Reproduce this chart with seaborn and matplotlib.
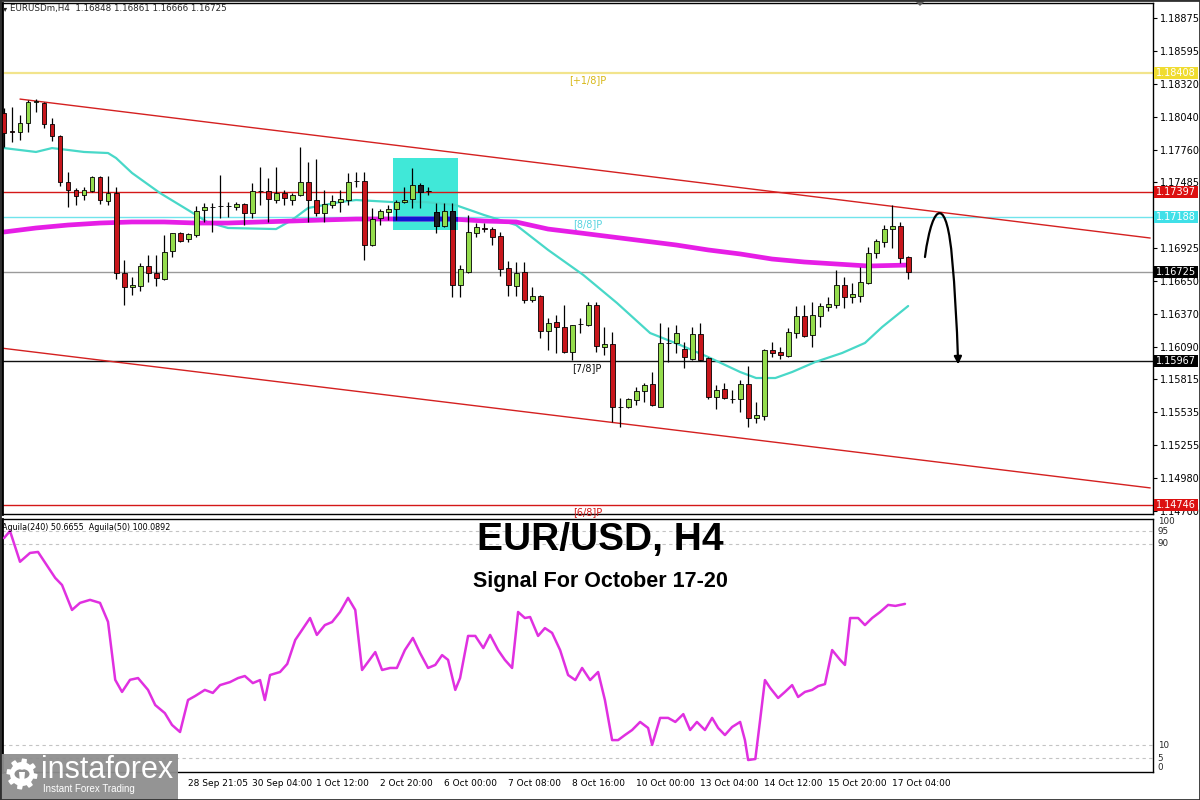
import numpy as np
import pandas as pd
import matplotlib
matplotlib.use("Agg")
import matplotlib.pyplot as plt
import seaborn as sns
from matplotlib.patches import Rectangle, FancyArrowPatch, Polygon, Circle
from matplotlib.path import Path
from matplotlib.transforms import blended_transform_factory

# ---------------- data ----------------
opens = [1.18070, 1.17917, 1.17909, 1.17985, 1.18163, 1.18155, 1.17977, 1.17875, 1.17486, 1.17418,
         1.17375, 1.17409, 1.17528, 1.17325, 1.17392, 1.16715, 1.16596, 1.16605, 1.16774, 1.16715,
         1.16664, 1.16901, 1.17054, 1.17003, 1.17037, 1.17248, 1.17274, 1.17282, 1.17282, 1.17274,
         1.17299, 1.17223, 1.17409, 1.17409, 1.17333, 1.17392, 1.17333, 1.17375, 1.17486, 1.17333,
         1.17223, 1.17291, 1.17316, 1.17333, 1.17494, 1.17494, 1.16952, 1.17181, 1.17231, 1.17257,
         1.17316, 1.17341, 1.17460, 1.17409, 1.17231, 1.17113, 1.17240, 1.16613, 1.16723, 1.17054,
         1.17096, 1.17087, 1.17028, 1.16757, 1.16605, 1.16723, 1.16486, 1.16520, 1.16223, 1.16300,
         1.16257, 1.16046, 1.16283, 1.16274, 1.16444, 1.16088, 1.16113, 1.15580, 1.15580, 1.15639,
         1.15715, 1.15775, 1.15580, 1.16122, 1.16122, 1.16071, 1.15986, 1.16198, 1.15995, 1.15664,
         1.15732, 1.15647, 1.15647, 1.15775, 1.15486, 1.15503, 1.16063, 1.16046, 1.16012, 1.16206,
         1.16351, 1.16189, 1.16351, 1.16427, 1.16444, 1.16613, 1.16511, 1.16520, 1.16630, 1.16884,
         1.16977, 1.17087, 1.17113, 1.16848]
highs = [1.18112, 1.18121, 1.18053, 1.18180, 1.18188, 1.18163, 1.18028, 1.17883, 1.17570, 1.17435,
         1.17443, 1.17536, 1.17536, 1.17536, 1.17443, 1.16825, 1.16681, 1.16799, 1.16867, 1.16867,
         1.17037, 1.17054, 1.17062, 1.17054, 1.17282, 1.17308, 1.17308, 1.17545, 1.17316, 1.17316,
         1.17308, 1.17477, 1.17613, 1.17519, 1.17613, 1.17418, 1.17392, 1.17782, 1.17655, 1.17680,
         1.17418, 1.17375, 1.17418, 1.17562, 1.17570, 1.17570, 1.17265, 1.17257, 1.17291, 1.17333,
         1.17443, 1.17604, 1.17477, 1.17443, 1.17308, 1.17308, 1.17308, 1.16783, 1.17206, 1.17138,
         1.17138, 1.17104, 1.17062, 1.16816, 1.16808, 1.16808, 1.16596, 1.16528, 1.16334, 1.16359,
         1.16444, 1.16274, 1.16334, 1.16469, 1.16469, 1.16257, 1.16215, 1.15656, 1.15656, 1.15749,
         1.15783, 1.15876, 1.16291, 1.16257, 1.16274, 1.16130, 1.16257, 1.16291, 1.16003, 1.15766,
         1.15783, 1.15724, 1.15808, 1.15927, 1.15622, 1.16071, 1.16130, 1.16088, 1.16249, 1.16435,
         1.16444, 1.16469, 1.16461, 1.16512, 1.16740, 1.16681, 1.16630, 1.16766, 1.16935, 1.17003,
         1.17121, 1.17291, 1.17147, 1.16861]
lows = [1.17782, 1.17824, 1.17841, 1.17909, 1.18078, 1.17943, 1.17833, 1.17452, 1.17274, 1.17291,
        1.17333, 1.17401, 1.17299, 1.17291, 1.16664, 1.16444, 1.16528, 1.16562, 1.16639, 1.16605,
        1.16655, 1.16850, 1.16977, 1.16977, 1.17020, 1.17147, 1.17062, 1.17181, 1.17189, 1.17248,
        1.17121, 1.17181, 1.17291, 1.17147, 1.17308, 1.17291, 1.17291, 1.17367, 1.17147, 1.17197,
        1.17147, 1.17265, 1.17231, 1.17291, 1.17443, 1.16825, 1.16943, 1.17121, 1.17164, 1.17164,
        1.17308, 1.17265, 1.17265, 1.17375, 1.17054, 1.17104, 1.16511, 1.16511, 1.16715, 1.17020,
        1.17062, 1.16952, 1.16689, 1.16520, 1.16520, 1.16461, 1.16469, 1.16164, 1.16063, 1.16037,
        1.16037, 1.15978, 1.16206, 1.16266, 1.16046, 1.16020, 1.15453, 1.15410, 1.15571, 1.15597,
        1.15622, 1.15588, 1.15580, 1.15961, 1.16037, 1.15910, 1.15978, 1.15969, 1.15647, 1.15563,
        1.15647, 1.15614, 1.15537, 1.15410, 1.15444, 1.15470, 1.16003, 1.15986, 1.16003, 1.16164,
        1.16172, 1.16088, 1.16257, 1.16393, 1.16418, 1.16418, 1.16461, 1.16469, 1.16622, 1.16842,
        1.16935, 1.16927, 1.16799, 1.16666]
closes = [1.17901, 1.17909, 1.17985, 1.18163, 1.18172, 1.17977, 1.17875, 1.17486, 1.17418, 1.17367,
          1.17418, 1.17528, 1.17333, 1.17392, 1.16715, 1.16596, 1.16613, 1.16774, 1.16715, 1.16672,
          1.16893, 1.17054, 1.16986, 1.17045, 1.17240, 1.17274, 1.17270, 1.17280, 1.17285, 1.17299,
          1.17223, 1.17409, 1.17412, 1.17341, 1.17392, 1.17350, 1.17375, 1.17486, 1.17333, 1.17223,
          1.17299, 1.17325, 1.17341, 1.17486, 1.17497, 1.16952, 1.17172, 1.17240, 1.17257, 1.17316,
          1.17333, 1.17460, 1.17401, 1.17406, 1.17113, 1.17240, 1.16613, 1.16749, 1.17062, 1.17104,
          1.17087, 1.17020, 1.16749, 1.16613, 1.16715, 1.16486, 1.16520, 1.16223, 1.16291, 1.16257,
          1.16046, 1.16274, 1.16280, 1.16444, 1.16096, 1.16113, 1.15580, 1.15583, 1.15647, 1.15715,
          1.15766, 1.15597, 1.16122, 1.16125, 1.16206, 1.16003, 1.16198, 1.15978, 1.15664, 1.15724,
          1.15656, 1.15644, 1.15775, 1.15486, 1.15512, 1.16063, 1.16037, 1.16020, 1.16215, 1.16351,
          1.16181, 1.16359, 1.16435, 1.16452, 1.16613, 1.16511, 1.16537, 1.16639, 1.16884, 1.16986,
          1.17087, 1.17113, 1.16842, 1.16725]

# slow moving average (magenta) sampled along the chart
ma_slow_idx = [0, 4, 8, 12, 16, 20, 24, 28, 32, 36, 40, 44, 48, 52, 56, 60, 64, 68, 72, 76,
               80, 84, 88, 92, 96, 100, 104, 108, 113]
ma_slow_val = [1.17062, 1.17096, 1.17121, 1.17138, 1.17147, 1.17147, 1.17138, 1.17138, 1.17147, 1.17155,
               1.17164, 1.17172, 1.17172, 1.17172, 1.17172, 1.17155, 1.17147, 1.17087, 1.17054, 1.17020,
               1.16986, 1.16952, 1.16910, 1.16876, 1.16833, 1.16808, 1.16791, 1.16774, 1.16782]
# fast moving average (turquoise)
ma_fast_idx = [0, 4, 6, 8, 10, 13, 14, 16, 19.5, 23, 25.4, 28, 34, 36, 38, 42, 44, 48.5, 52.6, 56.4,
               60, 64, 68, 72.4, 76.6, 80.75, 84.5, 88, 92, 94, 96.4, 98.5, 101.4, 104.75, 107.6,
               109.75, 113]
ma_fast_val = [1.17773, 1.17740, 1.17773, 1.17757, 1.17740, 1.17731, 1.17689, 1.17562, 1.17392, 1.17248,
               1.17147, 1.17096, 1.17087, 1.17164, 1.17265, 1.17316, 1.17333, 1.17316, 1.17316, 1.17291,
               1.17206, 1.17121, 1.16910, 1.16698, 1.16461, 1.16206, 1.16105, 1.16003, 1.15876, 1.15825,
               1.15825, 1.15876, 1.15961, 1.16037, 1.16122, 1.16257, 1.16435]

# Aguila oscillator (lower panel)
agu_idx = [0, 0.75, 2, 3.25, 4.25, 5.5, 6.4, 7.25, 8.5, 9.5,
           10.75, 12, 13, 13.9, 14.75, 15.75, 16.75, 18, 18.9, 20.1,
           21, 22, 23, 23.9, 25.1, 26.1, 27, 28.25, 29.25, 30.1,
           31.1, 32, 32.6, 33.25, 34.5, 35.4, 36.4, 37.4, 38.25, 39.1,
           40.1, 41, 42, 43, 43.9, 44.75, 45.5, 46.4, 47.25, 48.25,
           49.1, 50.1, 51.1, 52, 53, 53.9, 54.75, 55.5, 56.4, 57,
           58, 58.9, 59.9, 60.75, 61.75, 62.6, 63.5, 64.25, 65.1, 65.75,
           66.75, 67.6, 68.5, 69.5, 70.5, 71.4, 72.25, 73.25, 74.25, 75.1,
           76, 76.75, 77.6, 78.5, 79.5, 80.5, 81, 82, 83, 83.9,
           84.9, 85.75, 86.6, 87.6, 88.5, 89.25, 90.1, 91, 92, 92.6,
           93, 93.9, 94.5, 95.1, 95.75, 96.75, 97.6, 98.5, 99.25, 100.1,
           101, 101.75, 102.6, 103.5, 104.5, 105.1, 105.75, 106.75, 107.6, 108.5,
           109.5, 110.5, 111.4, 112.6]
agu_val = [92.2, 95.0, 82.8, 86.3, 86.7, 80.7, 76.4, 73.6, 63.7, 66.5,
           67.7, 66.5, 59.0, 36.0, 31.2, 36.0, 36.7, 32.0, 26.0, 22.8,
           18.1, 15.3, 28.0, 29.6, 32.0, 30.8, 33.9, 35.1, 36.7, 37.5,
           34.7, 35.9, 28.0, 37.9, 39.1, 42.3, 51.8, 56.5, 60.5, 53.8,
           57.7, 58.9, 62.9, 68.5, 63.7, 39.9, 43.1, 47.0, 39.9, 40.7,
           40.7, 47.8, 52.6, 46.6, 40.7, 41.9, 45.8, 43.9, 32.0, 36.7,
           53.4, 53.4, 48.6, 53.8, 47.8, 43.9, 40.7, 62.9, 60.5, 60.9,
           53.4, 56.5, 54.6, 47.8, 37.9, 35.9, 40.7, 35.9, 39.1, 28.0,
           12.1, 12.1, 14.1, 16.1, 19.3, 16.9, 10.2, 20.9, 20.9, 19.3,
           22.4, 16.1, 19.3, 16.1, 20.9, 16.9, 14.1, 17.3, 19.3, 12.1,
           4.2, 4.6, 20.1, 35.9, 32.8, 28.8, 31.2, 33.9, 29.2, 31.2,
           32.0, 33.5, 34.3, 47.8, 43.9, 41.9, 60.5, 60.5, 57.7, 60.5,
           62.9, 65.7, 65.3, 66.1]

# trend channel (index, price)
upper_tl_idx = [2, 143.25]
upper_tl_val = [1.18188, 1.17011]
lower_tl_idx = [-0.5, 143.25]
lower_tl_val = [1.16080, 1.14894]

# horizontal levels
lvl_plus18 = 1.18408
lvl_red = 1.17397
lvl_88 = 1.17188
lvl_last = 1.16725
lvl_78 = 1.15967
lvl_68 = 1.14746

# highlighted box (index range, price range)
box_idx = [48.6, 56.75]
box_val = [1.17079, 1.17689]

price_ticks = [1.18875, 1.18595, 1.18320, 1.18040, 1.17760, 1.17485, 1.16925,
               1.16650, 1.16370, 1.16090, 1.15815, 1.15535, 1.15255, 1.14980, 1.14700]
time_tick_idx = [23, 31, 39, 47, 55, 63, 71, 79, 87, 95, 103, 111]
time_tick_lbl = ["28 Sep 21:05", "30 Sep 04:00", "1 Oct 12:00", "2 Oct 20:00", "6 Oct 00:00",
                 "7 Oct 08:00", "8 Oct 16:00", "10 Oct 00:00", "13 Oct 04:00", "14 Oct 12:00",
                 "15 Oct 20:00", "17 Oct 04:00"]
osc_ticks = [100, 95, 90, 10, 5, 0]
osc_grid = [95, 90, 10, 5]

# ---------------- style ----------------
sns.set_style("white")
plt.rcParams['font.family'] = ['DejaVu Sans']

GREEN = '#94dc4c'
RED = '#c8161c'
DARK = '#1c1c24'
MAGENTA = '#e61ee6'
TURQ = '#48d8c8'
BOXC = '#40e8d8'

W, H = 1200, 800
fig = plt.figure(figsize=(12, 8), dpi=100)
fig.patch.set_facecolor('white')


def rect(x0, y0, x1, y1):
    return [x0 / W, 1 - y1 / H, (x1 - x0) / W, (y1 - y0) / H]


ax = fig.add_axes(rect(2, 3, 1153, 514))
ax2 = fig.add_axes(rect(2, 519, 1153, 772), sharex=ax)

ax.set_xlim(-0.25, 143.6)
ax.set_ylim(1.14673, 1.19002)
ax2.set_ylim(-0.55, 99.76)

df = pd.DataFrame({'o': opens, 'h': highs, 'l': lows, 'c': closes})
df['i'] = np.arange(len(df))
up = (df['c'] >= df['o']).values
bottoms = np.minimum(df['o'], df['c'])
heights = np.abs(df['c'] - df['o'])

# highlighted box
box = Rectangle((box_idx[0], box_val[0]), box_idx[1] - box_idx[0], box_val[1] - box_val[0],
                facecolor=BOXC, edgecolor='none', zorder=1)
ax.add_patch(box)

# horizontal levels
ax.axhline(lvl_plus18, color='#f2e48c', lw=1.6, zorder=1.5)
ax.axhline(lvl_red, color='#d41818', lw=1.0, zorder=1.5)
ax.axhline(lvl_88, color='#70e4ec', lw=1.0, zorder=1.5)
ax.axhline(lvl_last, color='#9a9a9a', lw=1.0, zorder=1.5)
ax.axhline(lvl_78, color='#101010', lw=1.0, zorder=1.5)
ax.axhline(lvl_68, color='#d41818', lw=1.0, zorder=1.5)

# trend channel
sns.lineplot(x=upper_tl_idx, y=upper_tl_val, ax=ax, color='#d42020', lw=1.0, zorder=1.6)
sns.lineplot(x=lower_tl_idx, y=lower_tl_val, ax=ax, color='#d42020', lw=1.0, zorder=1.6)

# moving averages
sns.lineplot(x=ma_fast_idx, y=ma_fast_val, ax=ax, color=TURQ, lw=1.6, zorder=2, sort=False, estimator=None)
sns.lineplot(x=ma_slow_idx, y=ma_slow_val, ax=ax, color=MAGENTA, lw=3.4, zorder=2.2, sort=False, estimator=None)
blue_line = ax.plot(ma_slow_idx, ma_slow_val, color='#1414d2', lw=3.4, zorder=2.3)[0]
blue_line.set_clip_path(box)

# candles
ax.vlines(df['i'], df['l'], df['h'], color='black', lw=0.9, zorder=3)
ax.bar(df['i'], heights, bottom=bottoms, width=0.62,
       color=np.where(up, GREEN, RED), edgecolor='black', linewidth=0.6, zorder=4)
dark = ax.bar(df['i'][~up], heights[~up], bottom=bottoms[~up], width=0.62,
              color=DARK, edgecolor='black', linewidth=0.6, zorder=4.5)
for b in dark:
    b.set_clip_path(box)

# level annotations
lbl_x = 72.9
for val, txt, col in [(lvl_plus18, '[+1/8]P', '#d8b818'), (lvl_88, '[8/8]P', '#58d4e0'),
                      (lvl_78, '[7/8]P', '#101010'), (lvl_68, '[6/8]P', '#d41818')]:
    ax.annotate(txt, xy=(lbl_x, val), xytext=(0, -1.5), textcoords='offset points',
                ha='center', va='top', fontsize=7, color=col, zorder=6)

# forecast arrow
verts = [(115.1, 1.16850), (116.1, 1.17350), (117.9, 1.17350), (118.5, 1.16825),
         (119.0, 1.16486), (119.25, 1.15940)]
codes = [Path.MOVETO, Path.CURVE4, Path.CURVE4, Path.CURVE4, Path.CURVE3, Path.CURVE3]
arrow = FancyArrowPatch(path=Path(verts, codes), arrowstyle='-|>', mutation_scale=11,
                        lw=1.6, color='black', zorder=7)
ax.add_patch(arrow)

# price axis
ax.yaxis.tick_right()
ax.set_yticks(price_ticks)
ax.set_yticklabels([f"{t:.5f}" for t in price_ticks])
ax.tick_params(axis='y', labelsize=7, length=3, width=0.8, pad=2, direction='out', colors='black')
ax.tick_params(axis='x', bottom=False, labelbottom=False)
ax.set_xlabel('')
ax.set_ylabel('')

tr = blended_transform_factory(ax.transAxes, ax.transData)
hh = 0.00051
bw = 44 / 1151
for val, fc, tc in [(lvl_plus18, '#f0dc30', 'white'), (lvl_red, '#dc1010', 'white'),
                    (lvl_88, '#40e0e8', 'white'), (lvl_last, '#000000', 'white'),
                    (lvl_78, '#000000', 'white'), (lvl_68, '#dc1010', 'white')]:
    ax.add_patch(Rectangle((1.0008, val - hh), bw, 2 * hh, transform=tr, facecolor=fc,
                           edgecolor='none', clip_on=False, zorder=10))
    ax.text(1.0008 + bw / 2, val, f"{val:.5f}", transform=tr, ha='center', va='center',
            fontsize=7, color=tc, clip_on=False, zorder=11)

# lower oscillator panel
for g in osc_grid:
    ax2.axhline(g, color='#c4c4c4', lw=0.8, ls=(0, (3, 3)), zorder=1)
sns.lineplot(x=agu_idx, y=agu_val, ax=ax2, color='#e030e0', lw=1.8, zorder=3, sort=False, estimator=None)
ax2.set_yticks([])
ax2.set_ylabel('')
tr2 = blended_transform_factory(ax2.transAxes, ax2.transData)
for t in osc_ticks:
    va = 'top' if t == 100 else ('bottom' if t == 0 else 'center')
    yy = 100.4 if t == 100 else (t - 0.4 if t == 0 else t)
    ax2.text(1.004, yy, str(t), transform=tr2, ha='left', va=va, fontsize=6.3, clip_on=False)
ax2.text(0.0, 0.985, "Aguila(240) 50.6655  Aguila(50) 100.0892", transform=ax2.transAxes,
         ha='left', va='top', fontsize=5.8, color='black')

ax2.set_xticks(time_tick_idx)
ax2.set_xticklabels(time_tick_lbl)
for lab in ax2.get_xticklabels():
    lab.set_horizontalalignment('left')
ax2.tick_params(axis='x', labelsize=6.5, length=3, width=0.8, pad=2, direction='out', colors='black')
ax2.set_xlabel('')

for a in (ax, ax2):
    for s in a.spines.values():
        s.set_color('black')
        s.set_linewidth(1.0)
    a.spines['left'].set_linewidth(2.0)
    a.set_facecolor('white')

# header
fig.text(3 / W, 1 - 9 / H, "\u25be", fontsize=6, ha='left', va='center')
fig.text(10 / W, 1 - 9 / H, "EURUSDm,H4  1.16848 1.16861 1.16666 1.16725", fontsize=6.3,
         ha='left', va='center')
fig.patches.append(Polygon([[914 / W, 1.0], [926 / W, 1.0], [920 / W, 1 - 6 / H]], closed=True,
                           transform=fig.transFigure, facecolor='#606060', edgecolor='none'))

# titles
fig.text(0.5, 1 - 540 / H, "EUR/USD, H4", fontsize=28, fontweight='bold',
         family=['Liberation Sans', 'DejaVu Sans'], ha='center', va='center', color='black')
fig.text(0.5, 1 - 581 / H, "Signal For October 17-20", fontsize=15.5, fontweight='bold',
         family=['Liberation Sans', 'DejaVu Sans'], ha='center', va='center', color='black')

# logo
fig.patches.append(Rectangle((0, 0), 178 / W, 46 / H, transform=fig.transFigure,
                             facecolor='#8e8e8e', edgecolor='none', alpha=0.95, zorder=20))
cx, cy = 22, 774
ang = np.linspace(0, 2 * np.pi, 97)[:-1]
rad = np.where((np.arange(96) // 6) % 2 == 0, 15.5, 12.0)
gear = [[(cx + r * np.cos(a)) / W, 1 - (cy + r * np.sin(a)) / H] for r, a in zip(rad, ang)]
fig.patches.append(Polygon(gear, closed=True, transform=fig.transFigure, facecolor='white',
                           edgecolor='none', zorder=21))
fig.patches.append(Circle((cx / W, 1 - cy / H), 7.5 / W, transform=fig.transFigure,
                          facecolor='#8e8e8e', edgecolor='none', zorder=22))
fig.patches.append(Polygon([[(cx - 3) / W, 1 - (cy - 2) / H], [(cx + 3) / W, 1 - (cy - 2) / H],
                            [(cx + 2) / W, 1 - (cy + 9) / H], [(cx - 2) / W, 1 - (cy + 9) / H]],
                           closed=True, transform=fig.transFigure, facecolor='white',
                           edgecolor='none', zorder=23))
fig.patches.append(Circle((cx / W, 1 - (cy - 6) / H), 2.6 / W, transform=fig.transFigure,
                          facecolor='white', edgecolor='none', zorder=23))
fig.text(41 / W, 1 - 770 / H, "instaforex", fontsize=22, color='white',
         family=['Liberation Sans', 'DejaVu Sans'], ha='left', va='center', zorder=24)
fig.text(43 / W, 1 - 789 / H, "Instant Forex Trading", fontsize=7, color='white',
         family=['Liberation Sans', 'DejaVu Sans'], ha='left', va='center', zorder=24)

# outer frame
fig.patches.append(Rectangle((0, 0), 1, 1, transform=fig.transFigure, facecolor='none',
                             edgecolor='#303030', lw=2.0, zorder=30))

fig.savefig("out.png", dpi=100)
